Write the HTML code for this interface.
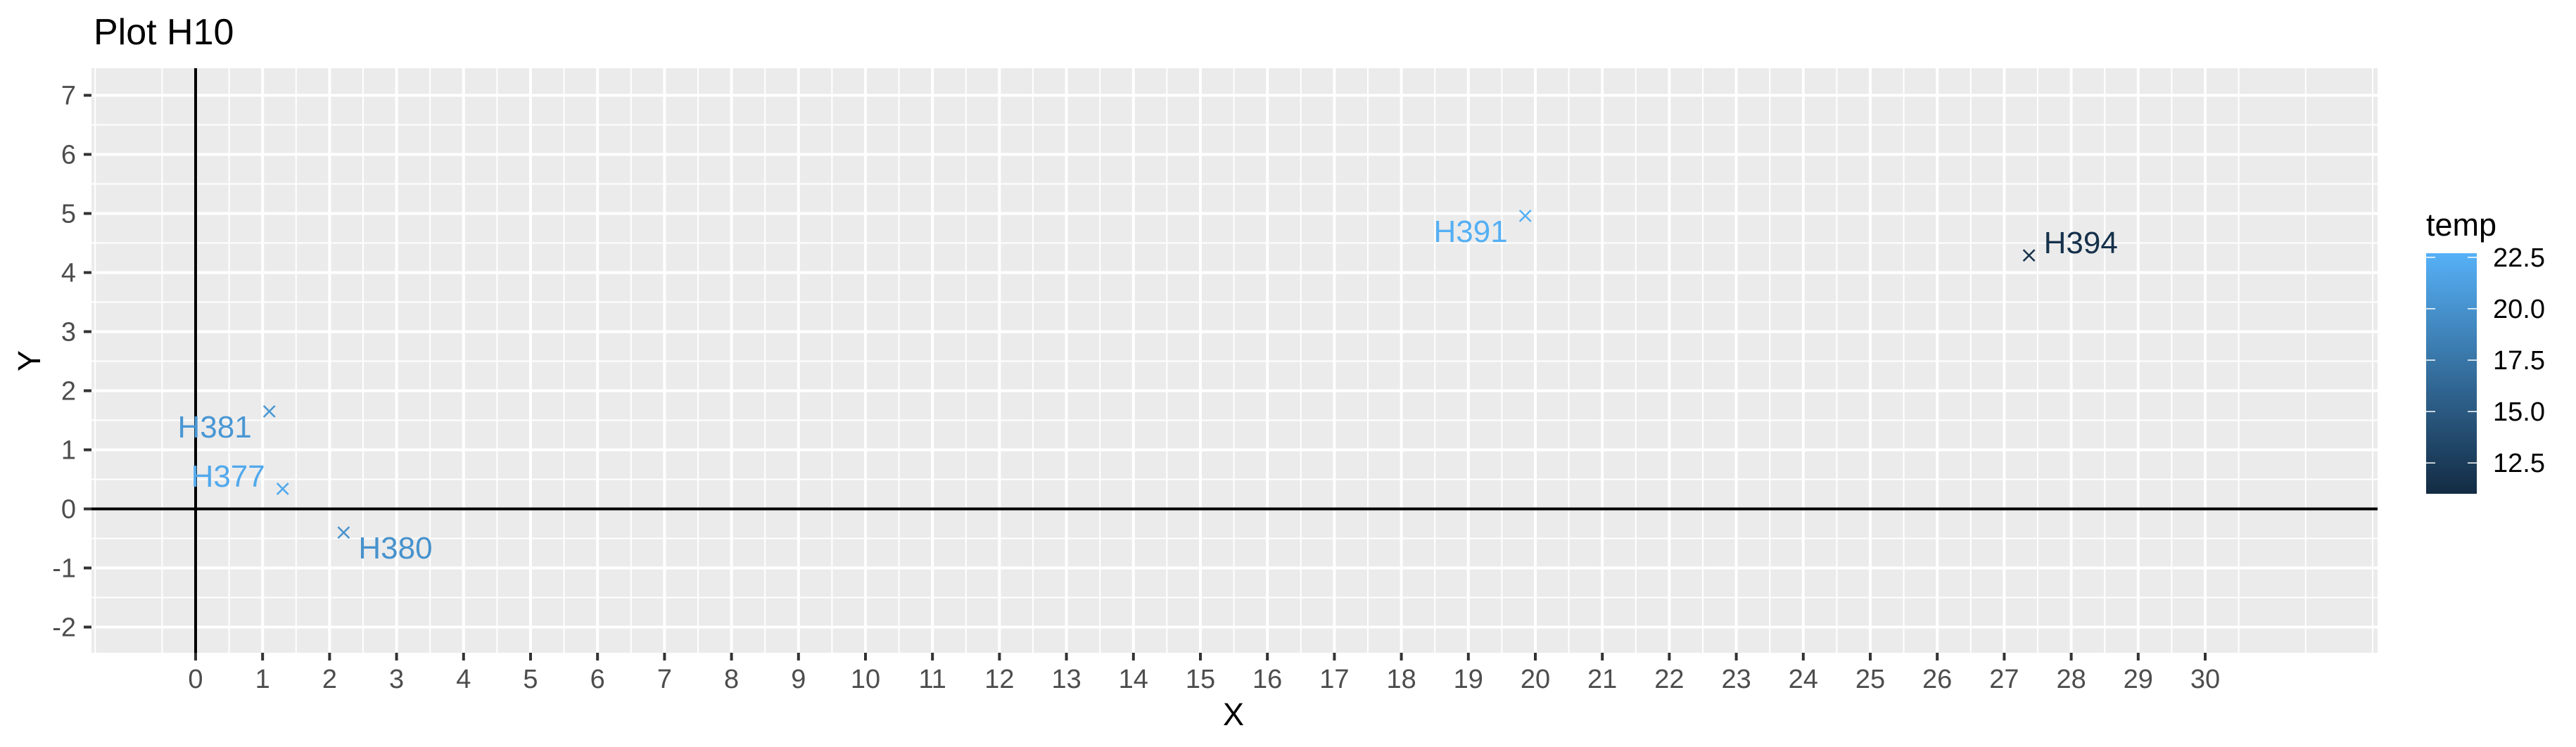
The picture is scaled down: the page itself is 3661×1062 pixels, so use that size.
<!DOCTYPE html>
<html><head><meta charset="utf-8"><style>
html,body{margin:0;padding:0;background:#fff;}
svg{display:block;font-family:"Liberation Sans",Arial,sans-serif;}
</style></head><body>
<svg id="chart" width="3661" height="1062" viewBox="0 0 3661 1062" xmlns="http://www.w3.org/2000/svg">
<defs>
<linearGradient id="tempgrad" x1="0" y1="1" x2="0" y2="0">
<stop offset="0" stop-color="#132B43"/><stop offset="1" stop-color="#56B1F7"/>
</linearGradient>
</defs>
<text x="133" y="63" font-size="52" fill="#000">Plot H10</text>
<rect x="130" y="97" width="3249" height="831" fill="#ebebeb"/>
<g id="grid"></g>
<g id="axes"></g>
<g id="points"></g>
<text x="1753" y="1031" font-size="45" text-anchor="middle" fill="#000">X</text>
<text transform="translate(57,513) rotate(-90)" font-size="45" text-anchor="middle" fill="#000">Y</text>
<g id="legend">
<text x="3448" y="335" font-size="45" fill="#000">temp</text>
<rect x="3448" y="360" width="72" height="342" fill="url(#tempgrad)"/>
</g>
</svg>
<script>
const labels = ["H377","H380","H381","H391","H394"];
const xs = [1.30, 2.21, 1.10, 19.85, 27.37];
const ys = [0.34, -0.40, 1.65, 4.96, 4.29];
const temps = [22.0, 20.0, 20.4, 22.5, 11.5];
const xTicks = [0,1,2,3,4,5,6,7,8,9,10,11,12,13,14,15,16,17,18,19,20,21,22,23,24,25,26,27,28,29,30];
const yTicks = [-2,-1,0,1,2,3,4,5,6,7];
const legendTicks = [12.5,15.0,17.5,20.0,22.5];
const labelSide = ["left","right","left","left","right"];
const labelBelow = [false,true,true,true,false];

const NS="http://www.w3.org/2000/svg";
const PL=130, PR=3379, PT=97, PB=928;
const sx = v => 278 + v*95.2;
const sy = v => 723.5 - v*84;
const tMin=11.0, tMax=22.7;
const sl = v => 702 - (v-tMin)/(tMax-tMin)*342;
function colorFor(t){
  const f=Math.max(0,Math.min(1,(t-tMin)/(tMax-tMin)));
  const a=[0x13,0x2B,0x43], b=[0x56,0xB1,0xF7];
  return "rgb("+a.map((c,i)=>Math.round(c+(b[i]-c)*f)).join(",")+")";
}
function mk(tag, attrs, parent){
  const e=document.createElementNS(NS,tag);
  for(const k in attrs) e.setAttribute(k,attrs[k]);
  parent.appendChild(e); return e;
}
const grid=document.getElementById("grid");
const axes=document.getElementById("axes");
const pts=document.getElementById("points");
const leg=document.getElementById("legend");

for(let v=-1.5; v<=32.5; v+=1){
  const x=sx(v); if(x<PL||x>PR) continue;
  const l=mk("line",{x1:x,x2:x,y1:PT,y2:PB,stroke:"#fff","stroke-width":2},grid);
  
  
}
for(let v=-2.5; v<=7.5; v+=1){
  const y=sy(v); if(y<PT||y>PB) continue;
  const l=mk("line",{x1:PL,x2:PR,y1:y,y2:y,stroke:"#fff","stroke-width":2},grid);
  
  
}
xTicks.forEach(v=>{
  const x=sx(v);
  const l=mk("line",{x1:x,x2:x,y1:PT,y2:PB,stroke:"#fff","stroke-width":4},grid);
  
  
  const t=mk("line",{x1:x,x2:x,y1:PB,y2:PB+11,stroke:"#333","stroke-width":4},axes);
  
  
  const tx=mk("text",{x:x,y:978,"font-size":38,"text-anchor":"middle",fill:"#4d4d4d"},axes);
  tx.textContent=v;
  
  
});
yTicks.forEach(v=>{
  const y=sy(v);
  const l=mk("line",{x1:PL,x2:PR,y1:y,y2:y,stroke:"#fff","stroke-width":4},grid);
  
  
  const t=mk("line",{x1:PL-11,x2:PL,y1:y,y2:y,stroke:"#333","stroke-width":4},axes);
  
  
  const tx=mk("text",{x:108,y:y+13,"font-size":38,"text-anchor":"end",fill:"#4d4d4d"},axes);
  tx.textContent=v;
  
  
});
const hl=mk("line",{x1:PL,x2:PR,y1:sy(0),y2:sy(0),stroke:"#000","stroke-width":4},axes);


const vl=mk("line",{x1:sx(0),x2:sx(0),y1:PT,y2:PB,stroke:"#000","stroke-width":4},axes);



labels.forEach((lab,i)=>{
  const x=sx(xs[i]), y=sy(ys[i]), c=colorFor(temps[i]), s=8;
  const g=mk("g",{},pts);
  
  
  mk("path",{d:`M${x-s},${y-s}L${x+s},${y+s}M${x-s},${y+s}L${x+s},${y-s}`,stroke:c,"stroke-width":2.5,fill:"none"},g);
  const left = labelSide[i]==="left";
  const tx=mk("text",{x:left? x-25 : x+21, y: labelBelow[i]? y+37 : y-3,"font-size":44,"text-anchor":left?"end":"start",fill:c},pts);
  tx.textContent=lab;
  
  
});

legendTicks.forEach(v=>{
  const y=sl(v);
  mk("line",{x1:3448,x2:3461,y1:y,y2:y,stroke:"#fff","stroke-width":1.5},leg);
  mk("line",{x1:3507,x2:3520,y1:y,y2:y,stroke:"#fff","stroke-width":1.5},leg);
  const tx=mk("text",{x:3543,y:y+13,"font-size":38,fill:"#000"},leg);
  tx.textContent=v.toFixed(1);
  
  
});
</script>
</body></html>
